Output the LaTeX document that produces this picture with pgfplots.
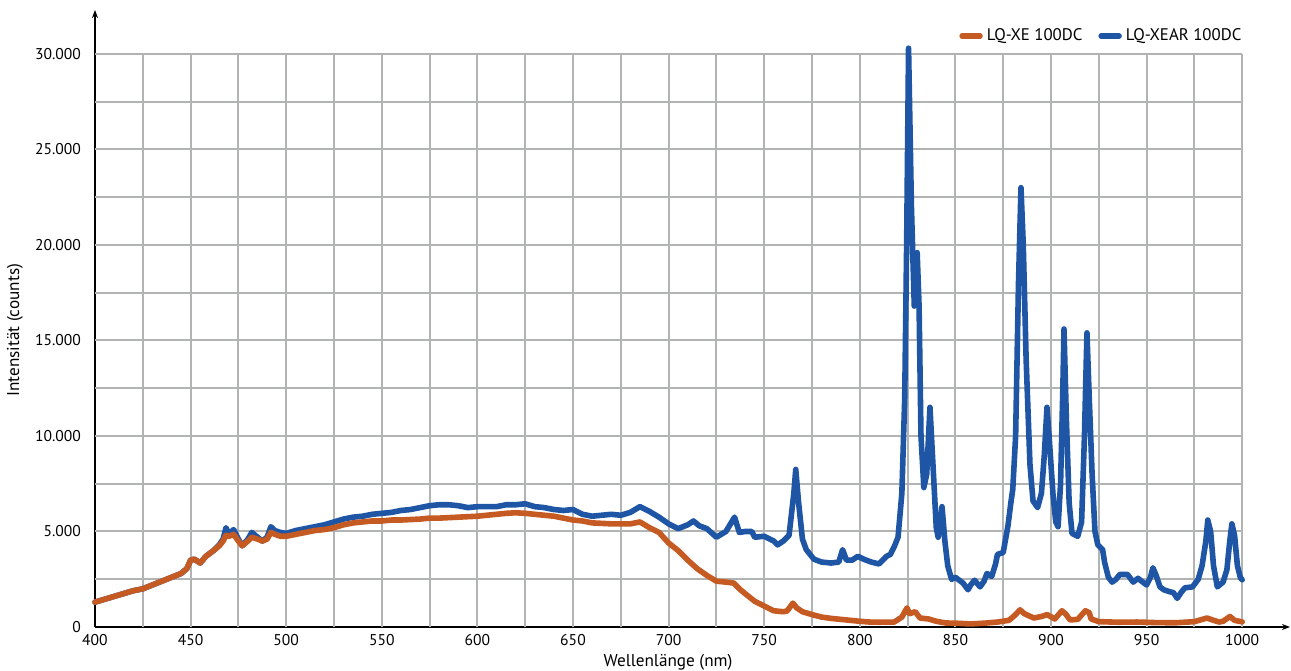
\documentclass[border=0pt]{standalone}
\usepackage{fontspec}
\setmainfont{PT Sans}
\usepackage{pgfplots}
\pgfplotsset{compat=1.18}
\usetikzlibrary{arrows.meta}
\definecolor{xeorange}{RGB}{197,90,34}
\definecolor{xearblue}{RGB}{31,85,165}
\definecolor{gridgray}{RGB}{178,180,180}

\begin{document}
\begin{tikzpicture}
\useasboundingbox (-47.5pt,-21.5pt) rectangle (598pt,313.5pt);
\begin{axis}[
    at={(0pt,0pt)}, anchor=south west,
    width=597.5pt, height=308.5pt, scale only axis,
    xmin=400, xmax=1025, ymin=0, ymax=32300,
    axis lines=left,
    axis line style={line width=1.1pt, -{Stealth[length=4pt,width=3pt]}},
    xtick={400,450,...,1000}, ytick={0,5000,10000,15000,20000,25000,30000},
    major tick length=0pt,
    scaled y ticks=false,
    /pgf/number format/assume math mode=true,
    xticklabel style={/pgf/number format/1000 sep={}},
    yticklabel style={/pgf/number format/1000 sep={.}, xshift=-3.5pt},
    tick label style={font=\fontsize{7.8}{9}\selectfont},
    xtick pos=bottom, ytick pos=left,
    xlabel={Wellenlänge (nm)},
    ylabel={Intensität (counts)},
    label style={font=\fontsize{8.6}{10}\selectfont},
    x label style={at={(axis description cs:0.4795,-0.032)}, anchor=north},
    y label style={at={(axis description cs:-0.067,0.481)}, anchor=center},
    legend style={at={(rel axis cs:0.968,0.958)}, anchor=east, draw=none, fill=none,
        font=\fontsize{8.4}{10}\selectfont, legend columns=2,
        /tikz/every even column/.append style={column sep=6pt}},
    legend image code/.code={\draw[#1, line width=2.7pt, line cap=round] (0pt,0pt) -- (9pt,0pt);},
    clip=false,
]
% grid, stopping at 1000 nm and 30.000 counts
\pgfplotsinvokeforeach{425,450,...,1000}{
    \draw[gridgray, line width=1pt] (axis cs:#1,0) -- (axis cs:#1,30000);
}
\pgfplotsinvokeforeach{2500,5000,7500,10000,12500,15000,17500,20000,22500,25000,27500,30000}{
    \draw[gridgray, line width=1pt] (axis cs:400,#1) -- (axis cs:1000,#1);
}

\addlegendimage{xeorange}
\addlegendentry{LQ-XE 100DC}
\addlegendimage{xearblue}
\addlegendentry{LQ-XEAR 100DC}

% LQ-XEAR 100DC
\addplot[xearblue, line width=2.8pt, line join=round, line cap=round, forget plot] coordinates {
(400,1300) (405,1450) (410,1600) (415,1750) (420,1900) (425,2000) (430,2200) (435,2400)
(440,2600) (445,2800) (448,3050) (450,3500) (452,3550) (455,3350) (458,3700) (462,4000)
(465,4300) (467,4600) (468.5,5200) (470,4850) (472.5,5100) (475,4600) (477,4250) (480,4600)
(482,4950) (485,4700) (487.5,4500) (490,4700) (492,5250) (494,5050) (497,4950) (500,4900)
(505,5050) (510,5150) (515,5250) (520,5350) (525,5500) (530,5650) (535,5750) (540,5800)
(545,5900) (550,5950) (555,6000) (560,6100) (565,6150) (570,6250) (575,6350) (580,6400)
(585,6400) (590,6350) (595,6250) (600,6300) (605,6300) (610,6300) (615,6400) (620,6400)
(625,6450) (630,6300) (635,6250) (640,6150) (645,6100) (650,6150) (655,5900) (660,5800)
(665,5850) (670,5900) (675,5850) (680,6000) (685,6300) (690,6050) (695,5750) (700,5400)
(705,5150) (710,5350) (713,5550) (716,5300) (720,5150) (725,4700) (730,5000) (734.5,5750)
(737,4950) (740,5000) (743.5,5000) (745,4700) (750,4750) (755,4500) (757,4300) (760,4500)
(763,4800) (765.5,7000) (766.5,8250) (768,6500) (770,4600) (772,4050) (776,3550) (780,3400)
(785,3350) (789,3400) (791,4050) (793,3500) (796,3500) (799,3700) (802,3550) (806,3400)
(810,3300) (814,3700) (816,3800) (818,4200) (820,4700) (822,7000) (823.5,12000) (824.5,20000)
(825.5,30300) (827,22000) (828.5,16800) (830,19600) (831,16800) (832,10000) (833.5,7300) (835,8000)
(836.7,11500) (838,9000) (840,5200) (841,4700) (843,6300) (844.5,4500) (846,3200) (848,2500)
(850,2600) (852,2450) (854,2300) (856.6,1950) (858,2200) (860,2450) (862.9,2100) (865,2400)
(866.5,2800) (869,2650) (871,3300) (872,3800) (875,3900) (877.5,5300) (879,6500) (880,7200)
(881.5,10000) (883,18000) (884.3,23000) (885.5,20000) (887,14000) (889,8500) (890.6,6600) (893,6250)
(895,7000) (896.5,9000) (897.9,11500) (899,10000) (901,7000) (902.5,5500) (903.7,5250) (905,7500)
(906.2,12500) (906.8,15600) (908,11000) (909.5,6500) (911,4900) (914,4750) (916,5500) (917.5,10000)
(918.8,15400) (920,12000) (921.5,8000) (923,5000) (924.5,4300) (927,4050) (928,3400) (930,2600)
(932,2350) (934,2500) (936,2750) (940,2750) (943,2350) (945.5,2550) (948,2350) (950,2200)
(952,2600) (953.3,3100) (955,2700) (957,2100) (959,1950) (962,1850) (964,1800) (966,1500)
(968,1800) (970,2050) (974,2100) (977,2500) (979,3200) (981,4500) (982,5600) (983.5,5000)
(985,3200) (987,2100) (990,2350) (992,3000) (993.5,4500) (994.6,5400) (996,4800) (997.5,3200)
(999,2600) (1000,2470)
};

% LQ-XE 100DC
\addplot[xeorange, line width=2.8pt, line join=round, line cap=round, forget plot] coordinates {
(400,1300) (405,1450) (410,1600) (415,1750) (420,1900) (425,2000) (430,2200) (435,2400)
(440,2600) (445,2800) (448,3050) (450,3500) (452,3550) (455,3350) (458,3700) (462,4000)
(465,4250) (467,4500) (468.5,4800) (470,4750) (472.5,4850) (475,4500) (477,4250) (480,4500)
(482,4700) (485,4600) (487.5,4500) (490,4600) (492,4950) (494,4850) (497,4750) (500,4750)
(505,4850) (510,4950) (515,5050) (520,5100) (525,5200) (530,5350) (535,5450) (540,5500)
(545,5550) (550,5550) (555,5600) (560,5600) (570,5650) (575,5700) (580,5700) (590,5750)
(600,5800) (610,5900) (615,5950) (620,5980) (625,5950) (630,5900) (640,5800) (650,5600)
(655,5550) (660,5450) (670,5400) (680,5400) (685,5500) (690,5200) (695,4950) (700,4400)
(705,4000) (710,3500) (715,3050) (720,2700) (725,2400) (730,2350) (734,2300) (737,2000)
(740,1750) (745,1350) (750,1100) (755,850) (760,800) (762,840) (765,1250) (767,1000)
(770,800) (775,650) (780,520) (785,450) (790,400) (795,350) (800,300) (805,260)
(810,250) (818,260) (822,520) (824.7,1000) (826,700) (829,800) (831.5,470) (836,420)
(840,300) (845,210) (850,200) (858,160) (865,200) (872,260) (878,350) (881,600)
(883.8,900) (886,700) (891,470) (895,550) (898,650) (902,420) (905.7,850) (907.5,700)
(910,370) (914,400) (918,850) (920,750) (921,420) (925,280) (935,250) (945,260)
(955,230) (965,220) (975,280) (981.6,470) (985,350) (988,260) (990,300) (993.6,550)
(996,350) (1000,270)
};
\end{axis}
\end{tikzpicture}
\end{document}
